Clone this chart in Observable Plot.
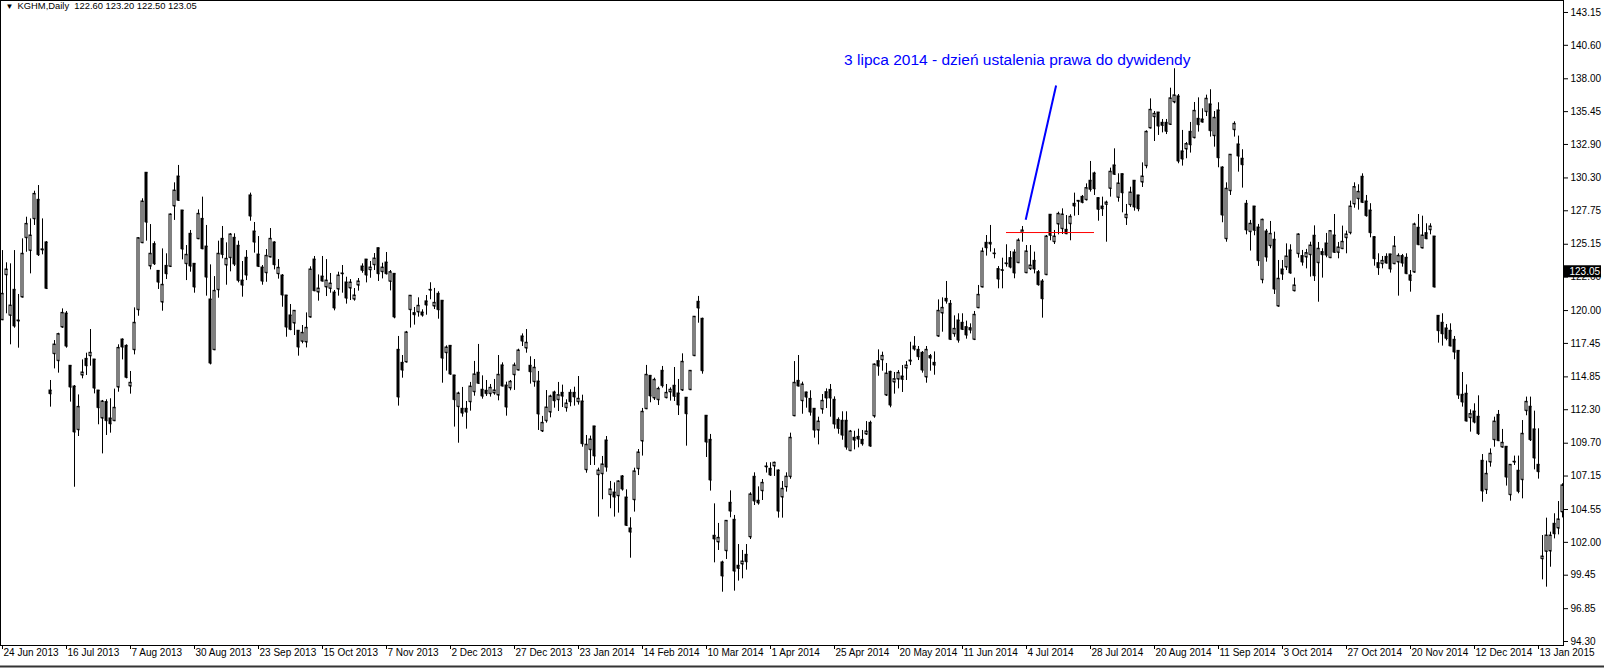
<!DOCTYPE html>
<html><head><meta charset="utf-8">
<script src="https://cdn.jsdelivr.net/npm/d3@7"></script>
<script src="https://cdn.jsdelivr.net/npm/@observablehq/plot@0.6"></script>
<style>html,body{margin:0;padding:0;background:#fff;}#chart{width:1604px;height:668px;overflow:hidden;}</style>
</head><body><div id="chart"></div>
<script>
// KGHM daily candles, 24 Jun 2013 .. Jan 2015
const opens = [
119.28,122.77,119.62,121.61,119.23,121.04,125.65,124.66,127.12,128.60,
124.75,125.29,113.79,116.64,116.10,118.71,119.77,115.71,114.10,110.74,
114.98,116.25,116.48,116.20,113.79,111.64,112.89,111.62,111.44,114.05,
117.75,117.26,114.13,116.95,120.06,125.26,130.70,123.45,125.16,123.08,
120.65,123.47,123.42,128.11,130.41,127.77,123.63,125.96,123.63,125.57,
127.12,124.97,120.86,116.95,121.61,125.57,123.53,124.10,125.65,125.03,
122.33,124.10,128.94,126.14,124.35,123.34,122.93,124.15,125.29,122.85,
122.72,121.17,119.62,119.02,118.43,117.60,117.55,119.49,123.96,121.43,
122.64,121.82,121.71,121.40,121.66,122.85,122.18,121.74,120.88,121.97,
123.42,123.96,123.16,123.55,124.84,123.01,123.73,122.26,122.85,116.95,
115.94,116.00,120.06,119.80,119.88,119.85,120.71,121.58,120.34,121.30,
120.76,116.72,117.26,114.96,112.53,112.37,112.37,112.91,113.69,115.17,
113.85,113.77,113.54,113.59,113.43,115.74,114.18,113.98,115.01,115.37,
117.99,117.08,115.71,114.47,114.49,110.64,111.44,112.11,113.64,113.07,
113.61,112.45,113.61,113.61,112.91,112.94,107.63,109.19,111.00,107.25,
107.32,109.91,105.69,105.87,105.61,107.12,105.48,103.08,105.30,107.71,
109.86,112.37,114.93,113.20,113.07,115.32,113.23,113.67,114.16,113.56,
113.82,113.23,113.85,116.49,120.68,119.36,111.83,109.96,102.51,102.02,
100.44,101.34,105.07,103.75,100.18,100.31,101.03,102.41,107.09,105.23,
106.00,107.85,107.71,107.92,107.58,105.51,106.30,107.10,111.82,114.54,
112.99,113.64,113.14,112.37,110.71,112.34,113.66,113.84,113.07,111.51,
111.44,111.44,109.11,110.12,110.19,109.96,110.40,111.28,111.80,116.07,
116.17,113.43,115.24,114.44,114.67,114.88,115.53,116.07,117.21,116.95,
116.72,114.83,116.46,115.94,118.01,119.80,120.91,120.52,118.19,119.23,
119.05,118.71,118.63,117.75,120.21,121.82,125.26,125.26,124.43,123.22,
123.11,123.63,124.07,124.51,123.71,126.06,122.93,123.24,123.86,122.98,
122.26,122.78,127.44,125.34,126.71,126.35,126.27,126.74,128.29,128.48,
128.83,128.60,130.08,130.65,128.73,128.08,128.24,129.48,131.27,128.78,
130.59,127.20,128.21,130.08,128.94,129.97,131.24,134.17,135.05,135.38,
134.58,134.58,134.45,136.19,136.63,132.36,132.54,133.88,133.42,134.89,
134.84,135.44,136.01,133.57,135.54,131.11,125.57,129.30,134.04,132.90,
131.79,128.29,126.12,128.08,126.45,122.39,126.14,125.03,125.50,120.34,
123.19,123.37,124.67,121.53,124.41,124.23,124.15,124.33,125.81,123.71,
124.54,125.21,124.10,125.83,124.51,124.80,125.65,126.04,128.27,128.68,
130.39,128.47,127.77,125.70,123.68,123.63,124.17,124.36,123.63,123.76,
124.23,124.10,122.73,122.98,126.43,124.85,126.01,126.27,125.75,119.59,
119.05,118.61,118.43,117.73,116.87,113.46,113.54,111.67,112.16,111.75,
108.33,106.08,108.23,109.96,111.90,109.39,109.42,105.69,108.23,107.56,
106.86,112.22,112.53,110.77,108.02,100.72,101.29,101.32,103.44,103.10,
104.35];
const highs = [
124.66,123.71,123.63,124.66,121.25,125.57,127.25,127.12,129.27,129.71,
127.12,125.36,114.57,117.67,118.24,120.13,119.93,115.71,114.18,113.45,
116.17,116.69,118.53,116.20,113.79,113.02,113.07,113.15,113.90,117.34,
117.80,117.34,115.27,120.21,125.65,128.68,130.70,126.68,125.34,123.08,
124.79,124.41,127.51,129.92,131.27,127.77,125.05,126.22,123.63,127.82,
128.81,126.61,123.55,122.64,125.39,126.53,125.26,125.98,125.96,125.39,
123.81,124.66,129.12,126.84,125.75,123.50,124.74,126.37,125.34,123.96,
122.80,121.17,120.47,119.98,118.43,118.84,119.82,123.40,124.20,122.77,
124.20,123.96,122.88,121.56,122.98,123.50,122.59,122.41,121.71,122.49,
123.63,123.96,123.81,124.43,124.84,123.68,124.51,123.11,122.85,117.99,
116.51,118.38,121.17,120.24,120.99,120.06,121.17,122.16,121.72,121.46,
120.76,117.26,117.26,114.96,113.66,114.03,112.94,114.42,116.05,117.37,
114.93,114.57,114.26,114.65,116.51,115.94,114.44,114.57,115.92,117.00,
118.19,118.53,116.41,116.20,115.27,111.78,113.79,113.43,113.74,114.42,
114.21,113.07,113.85,114.05,114.88,113.43,110.30,110.25,111.00,107.76,
108.67,110.22,106.73,106.62,106.78,107.19,106.08,103.91,107.76,109.21,
112.40,115.74,114.96,114.75,114.05,115.66,114.26,114.00,115.58,114.65,
116.64,113.23,115.32,119.54,121.10,119.41,111.83,110.38,104.99,103.47,
100.54,103.67,106.00,104.09,101.83,101.37,101.83,105.85,107.40,106.31,
106.88,108.18,108.18,108.23,107.63,106.73,107.40,110.48,116.04,116.51,
114.44,113.66,113.77,112.37,111.72,113.48,113.92,114.26,113.30,111.67,
112.14,112.14,110.69,110.63,110.79,110.69,111.38,111.41,115.86,116.95,
116.77,115.89,115.29,115.19,115.34,115.73,116.04,117.54,117.98,117.21,
116.82,117.21,116.59,116.79,120.83,120.99,122.26,120.78,119.59,119.75,
119.75,119.18,118.97,119.93,121.95,124.85,125.83,126.61,124.80,123.42,
124.07,125.11,124.59,124.72,125.57,126.53,125.05,125.05,124.54,123.11,
122.41,125.83,127.44,126.22,127.64,127.90,127.38,127.44,129.12,128.55,
128.94,129.84,131.58,130.75,128.73,128.81,128.50,131.06,132.56,130.62,
130.59,128.24,129.58,130.08,128.94,131.47,133.96,136.44,135.46,135.38,
134.84,134.84,137.27,138.78,136.78,133.99,133.05,134.61,136.16,136.52,
135.67,136.73,137.15,135.46,136.14,131.17,129.92,132.10,134.66,133.55,
132.49,128.55,127.00,128.08,126.69,127.10,126.30,126.92,126.09,123.89,
123.89,125.18,125.11,122.52,125.96,124.67,124.75,125.31,126.58,125.29,
124.80,125.99,126.22,127.46,125.29,126.56,126.17,128.50,129.92,129.77,
130.62,128.94,128.30,125.75,124.41,124.20,124.41,124.36,125.75,124.41,
124.36,124.41,123.11,126.79,127.46,127.33,126.74,126.74,125.75,119.59,
119.75,118.92,118.97,117.99,116.87,115.19,114.23,112.29,112.76,113.38,
108.82,108.31,109.26,111.72,112.24,110.77,109.42,108.02,108.70,108.70,
111.46,113.28,113.28,112.19,110.82,102.53,103.88,102.79,104.22,105.17,
106.55];
const lows = [
119.23,119.75,117.34,118.63,117.08,121.00,124.53,122.85,126.61,124.20,
124.33,121.66,112.50,115.47,115.14,118.63,117.08,112.89,106.28,110.22,
114.70,114.96,115.68,113.53,111.13,108.87,110.30,110.48,111.41,113.66,
116.17,114.70,113.51,116.56,119.56,125.23,125.39,123.16,123.50,121.64,
119.95,122.41,123.37,127.00,128.55,123.94,122.33,122.98,121.35,125.52,
124.74,121.12,115.78,116.95,120.96,124.02,121.97,123.01,123.42,122.15,
121.04,122.33,126.94,124.46,123.37,121.97,122.20,124.15,123.16,122.44,
120.26,117.93,118.43,118.06,116.46,117.42,117.10,119.43,121.48,120.73,
122.28,121.09,121.35,119.98,121.12,121.35,120.50,120.78,120.73,121.51,
122.90,122.15,122.51,123.11,122.26,122.46,122.77,121.53,119.36,112.58,
114.75,115.94,118.64,118.87,119.49,119.49,119.64,120.84,120.08,119.33,
114.36,115.30,114.98,110.95,109.70,111.72,110.79,112.19,113.35,114.26,
113.12,113.33,113.28,113.43,112.99,114.10,111.80,113.77,113.80,115.35,
117.21,116.69,114.29,114.05,110.69,110.53,111.26,111.67,112.42,112.16,
112.47,112.11,112.53,112.58,112.66,109.39,107.37,107.97,107.97,103.96,
105.31,107.45,104.61,103.96,104.27,105.98,103.26,100.77,104.35,107.19,
108.70,112.32,112.84,113.02,112.63,113.98,113.15,112.97,112.94,111.85,
113.72,109.47,113.82,116.44,119.02,115.06,108.59,105.98,100.41,101.37,
98.13,100.67,103.91,98.21,98.99,99.17,99.84,102.22,104.86,104.89,
105.25,107.38,107.12,107.12,103.88,103.88,105.90,106.90,111.80,114.13,
111.95,112.42,111.80,110.09,109.57,111.95,112.39,111.72,110.79,110.40,
109.93,109.16,109.11,109.18,109.34,109.47,110.30,109.39,111.64,114.90,
115.29,113.33,112.45,113.51,113.92,113.64,114.57,115.73,116.85,116.12,
115.14,114.36,115.29,114.98,117.93,118.32,120.50,117.70,117.93,117.47,
118.45,117.78,118.19,117.67,120.19,121.82,124.23,124.54,124.02,121.69,
121.69,123.37,123.24,122.47,123.71,125.31,122.93,123.11,122.85,121.90,
119.41,122.72,125.42,125.13,125.88,125.91,125.91,125.42,127.33,127.38,
128.29,128.52,129.20,128.94,126.94,127.31,125.31,128.81,130.57,128.42,
127.59,126.61,128.01,127.72,127.67,129.56,131.01,134.12,133.13,133.60,
133.80,133.67,134.40,136.06,131.40,131.22,131.79,132.23,133.34,133.86,
134.58,135.07,133.47,132.69,131.09,126.82,125.31,128.94,133.47,130.75,
129.51,125.88,124.62,125.81,123.43,122.08,123.76,124.80,121.25,120.27,
122.34,123.11,122.83,121.46,124.07,123.45,123.24,122.60,122.26,120.65,
122.52,124.10,124.10,124.49,124.02,124.80,124.41,125.88,127.95,127.80,
128.32,127.26,125.65,123.45,122.73,123.24,123.63,122.91,123.63,121.12,
123.37,122.80,121.43,122.91,125.05,124.85,125.52,125.88,121.82,117.47,
117.24,117.65,117.24,116.18,113.10,112.50,111.41,110.56,111.20,110.30,
105.12,105.72,107.84,109.39,109.86,109.34,106.37,105.20,107.97,105.77,
105.38,111.83,109.83,107.63,106.91,99.09,98.52,100.07,102.27,102.58,
103.90];
const closes = [
121.30,123.19,120.39,118.79,119.18,124.41,126.73,125.83,129.06,124.33,
124.70,121.71,113.53,117.36,118.17,119.82,117.23,114.05,110.56,112.52,
115.19,115.71,116.72,113.97,112.45,112.94,111.44,111.20,112.45,117.10,
117.16,114.80,114.39,119.05,125.62,128.47,126.86,124.41,123.63,122.20,
122.00,122.85,127.46,129.32,128.55,124.77,124.33,123.45,121.82,127.51,
124.79,122.59,115.91,121.53,124.41,124.35,124.02,125.91,123.60,122.33,
121.97,122.75,127.33,125.31,123.42,122.28,124.25,125.57,123.55,123.32,
121.20,118.71,118.53,119.98,117.16,118.27,118.66,123.19,121.53,121.71,
122.28,122.33,122.10,120.19,122.72,122.88,120.96,122.18,121.17,122.26,
123.11,122.75,123.34,124.04,122.85,123.34,122.85,122.98,119.49,113.28,
115.37,118.30,121.15,119.67,120.37,119.64,120.42,121.61,120.60,120.06,
116.30,117.13,115.06,113.07,113.56,112.03,112.11,114.10,115.04,114.34,
113.35,113.54,114.00,113.80,115.01,114.13,112.50,114.47,115.74,116.90,
117.62,117.50,115.24,115.56,111.96,111.28,112.47,113.33,112.99,113.43,
113.35,112.78,112.91,113.28,113.15,109.65,109.58,109.99,108.70,107.58,
108.05,107.84,106.11,105.51,106.73,106.13,103.31,102.79,107.51,108.98,
112.14,115.01,113.36,114.62,113.92,114.16,113.61,113.85,113.33,112.66,
116.02,111.98,115.32,119.52,120.19,115.32,109.78,106.83,102.25,102.35,
99.38,103.67,104.42,99.76,99.97,100.51,100.49,105.72,105.20,105.05,
106.62,107.89,107.22,108.18,104.42,106.16,107.10,110.12,114.39,114.13,
114.26,113.27,112.11,110.71,111.38,112.99,113.20,113.20,111.18,110.84,
110.32,109.39,110.61,109.93,110.01,109.65,110.61,109.47,115.81,115.68,
116.48,115.11,112.65,114.67,115.16,114.65,115.73,116.12,117.00,116.41,
115.37,116.95,116.30,115.76,119.98,120.21,120.73,117.75,118.58,117.70,
118.53,118.09,118.48,119.67,121.22,124.59,124.87,125.16,124.41,122.44,
123.14,123.66,123.37,122.91,125.44,126.22,124.59,123.50,123.22,122.00,
120.91,125.75,125.83,125.75,127.51,127.46,125.96,127.28,128.11,128.52,
128.39,129.51,129.40,129.45,127.85,127.90,128.39,130.78,130.57,129.87,
129.14,127.44,129.17,128.03,127.90,130.41,133.88,135.59,135.28,134.32,
134.37,133.91,136.48,136.71,131.60,131.76,132.93,132.87,135.51,134.43,
134.63,136.45,133.96,134.97,131.86,127.41,129.46,132.10,134.50,131.99,
131.32,126.25,126.74,126.22,123.87,127.05,124.15,125.96,121.66,122.47,
122.83,124.20,122.91,121.95,125.91,123.76,124.46,125.05,122.70,124.80,
124.33,124.30,126.17,124.51,124.90,125.34,125.91,128.08,129.59,129.22,
128.39,127.36,126.04,124.02,123.32,123.86,123.68,123.22,124.98,124.25,
123.68,122.86,122.34,126.69,125.11,125.83,125.57,126.53,121.82,118.43,
118.19,117.83,117.24,116.77,113.43,112.89,111.41,111.96,111.33,110.43,
105.98,107.32,108.88,111.38,109.89,109.73,107.06,108.02,108.26,105.95,
110.43,112.91,109.96,108.54,107.48,100.90,102.53,102.53,102.66,103.78,
106.42];

const xTickLabels = ["24 Jun 2013","16 Jul 2013","7 Aug 2013","30 Aug 2013","23 Sep 2013","15 Oct 2013",
  "7 Nov 2013","2 Dec 2013","27 Dec 2013","23 Jan 2014","14 Feb 2014","10 Mar 2014","1 Apr 2014",
  "25 Apr 2014","20 May 2014","11 Jun 2014","4 Jul 2014","28 Jul 2014","20 Aug 2014","11 Sep 2014",
  "3 Oct 2014","27 Oct 2014","20 Nov 2014","12 Dec 2014","13 Jan 2015"];
const barsPerLabel = 16;
const yTicks = [143.15,140.60,138.00,135.45,132.90,130.30,127.75,125.15,122.60,120.00,117.45,
  114.85,112.30,109.70,107.15,104.55,102.00,99.45,96.85,94.30];

const symbol = "KGHM";
const timeframe = "Daily";
const lastOHLC = [122.60, 123.20, 122.50, 123.05];
const annotation = {x: 210.4, y: 139.42, text: "3 lipca 2014 - dzień ustalenia prawa do dywidendy"};
const pointer = {x1: 255.8, y1: 127.05, x2: 263.4, y2: 137.48};
const dividendLevel = {price: 126.06, from: 251, to: 273};

const bars = opens.map((o, i) => ({i, open: o, high: highs[i], low: lows[i], close: closes[i]}));
const xTickIdx = xTickLabels.map((_, k) => k * barsPerLabel);
const header = `${symbol},${timeframe}\u00a0\u00a0${lastOHLC.map(v => v.toFixed(2)).join(" ")}`;
const lastPrice = lastOHLC[3];

const half = 0.25;
const chart = Plot.plot({
  width: 1604, height: 668,
  marginLeft: 0, marginRight: 41, marginTop: 0, marginBottom: 23,
  style: {background: "white", color: "black", fontFamily: "'Liberation Sans', Arial, sans-serif", fontSize: "10px"},
  x: {domain: [-0.5, 390.25], axis: null},
  y: {domain: [93.99, 144.08], axis: "right", ticks: yTicks, tickFormat: d => d.toFixed(2), tickSize: 4, tickPadding: 3, label: null},
  marks: [
    Plot.ruleX(bars, {x: "i", y1: "low", y2: "high", stroke: "black", strokeWidth: 1}),
    Plot.rect(bars, {x1: d => d.i - half, x2: d => d.i + half, y1: "open", y2: "close",
      fill: d => d.close >= d.open ? "white" : "black", stroke: "black", strokeWidth: 1}),
    Plot.ruleY(bars, {y: "open", x1: d => d.i - half, x2: d => d.i + half, dx: 0.5, stroke: "black"}),
    Plot.ruleY(bars, {y: "close", x1: d => d.i - half, x2: d => d.i + half, dx: 0.5, stroke: "black"}),
    Plot.ruleY([dividendLevel], {y: "price", x1: "from", x2: "to", stroke: "red", strokeWidth: 1}),
    Plot.link([pointer], {x1: "x1", y1: "y1", x2: "x2", y2: "y2", stroke: "blue", strokeWidth: 2}),
    Plot.text([annotation], {x: "x", y: "y", text: "text", textAnchor: "start", fill: "blue", fontSize: 15.5}),
    Plot.frame({stroke: "black"}),
    Plot.ruleX(xTickIdx, {x: d => d, insetTop: 645, insetBottom: -4, stroke: "black"}),
    Plot.text(xTickIdx, {x: d => d, text: (d, k) => xTickLabels[k], frameAnchor: "bottom", dy: 3, dx: 1,
      lineAnchor: "top", textAnchor: "start", fill: "black"}),
    Plot.text(["\u25BC"], {frameAnchor: "top-left", dx: 5, dy: 3, lineAnchor: "top", textAnchor: "start", fontSize: 8, fill: "black"}),
    Plot.text([header], {frameAnchor: "top-left", dx: 17, dy: 2, lineAnchor: "top", textAnchor: "start", fontSize: 9.4, fill: "black"}),
    Plot.ruleY([lastPrice], {y: d => d, stroke: "black", strokeWidth: 12, insetLeft: 1563, insetRight: -38}),
    Plot.text([lastPrice], {y: d => d, text: d => d.toFixed(2), frameAnchor: "right", dx: 6, textAnchor: "start", fill: "white"})
  ]
});
document.getElementById("chart").appendChild(chart);
d3.select(chart).append("line").attr("x1", 0).attr("x2", 1604).attr("y1", 666.5).attr("y2", 666.5)
  .attr("stroke", "#333").attr("stroke-width", 2);
</script>
</body></html>
